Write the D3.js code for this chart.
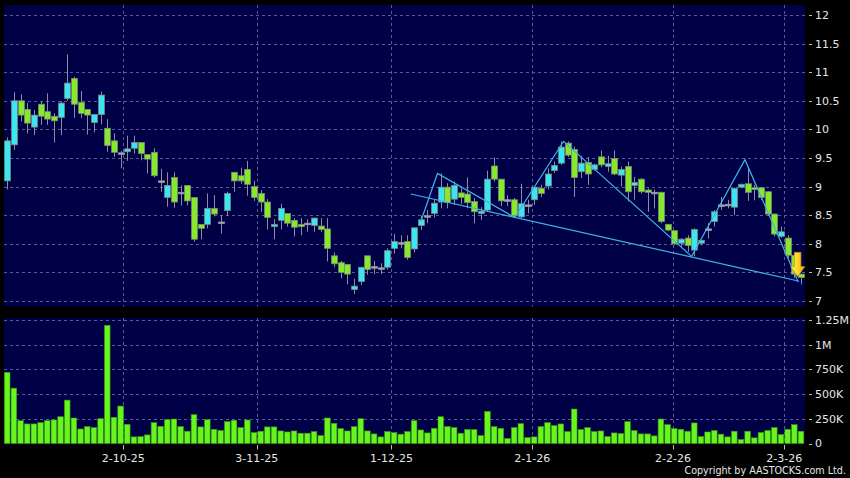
<!DOCTYPE html>
<html><head><meta charset="utf-8">
<script src="https://cdn.jsdelivr.net/npm/d3@7"></script>
<style>html,body{margin:0;padding:0;background:#000;}svg{display:block;}</style>
</head><body>
<script>
// ---- data ----
const opens  = [9.10,9.73,10.50,10.35,10.04,10.44,10.31,10.23,10.21,10.54,10.89,10.47,10.35,10.12,10.26,10.02,9.80,9.59,9.61,9.67,
 9.77,9.56,9.60,9.10,8.81,9.16,8.90,9.02,8.81,8.34,8.34,8.62,8.38,8.58,9.25,9.19,9.30,9.00,8.88,8.73,
 8.30,8.41,8.53,8.41,8.34,8.36,8.32,8.31,8.26,7.79,7.67,7.64,7.20,7.34,7.79,7.60,7.58,7.59,7.92,8.02,
 8.04,7.91,8.32,8.49,8.53,8.73,8.99,8.78,8.89,8.87,8.74,8.53,8.59,9.36,9.13,8.77,8.77,8.47,8.68,8.77,
 8.97,9.01,9.28,9.41,9.76,9.65,9.26,9.42,9.30,9.52,9.35,9.49,9.20,9.35,9.02,9.13,8.94,8.90,8.90,8.34,
 8.23,8.01,8.10,7.89,8.01,8.26,8.39,8.68,8.69,8.64,8.99,9.05,8.98,8.98,8.91,8.52,8.13,8.10,7.80,7.47];
const highs  = [9.86,10.65,10.61,10.46,10.34,10.49,10.63,10.28,10.49,11.31,10.92,10.67,10.35,10.26,10.66,10.18,9.93,9.62,9.89,9.89,
 9.77,9.56,9.67,9.31,9.25,9.25,9.02,9.02,8.81,8.34,8.88,8.85,8.50,8.91,9.25,9.33,9.45,9.10,8.94,8.78,
 8.43,8.70,8.53,8.45,8.45,8.43,8.45,8.45,8.45,7.85,7.70,7.64,7.39,7.59,7.79,7.70,7.66,7.92,8.17,8.15,
 8.15,8.28,8.49,8.59,8.77,9.23,9.06,9.09,8.97,9.16,8.80,8.64,9.28,9.51,9.13,8.85,8.80,9.05,8.77,8.99,
 9.03,9.32,9.44,9.79,9.79,9.70,9.54,9.52,9.40,9.63,9.54,9.63,9.35,9.44,9.17,9.15,8.97,8.95,8.91,8.34,
 8.23,8.10,8.15,8.27,8.07,8.36,8.59,8.82,8.77,8.98,9.05,9.35,9.03,8.99,8.92,8.53,8.30,8.15,7.80,7.48];
const lows   = [8.95,9.64,10.14,9.93,9.90,10.08,10.08,9.77,9.90,10.50,10.20,10.20,9.91,9.95,10.09,9.61,9.52,9.32,9.45,9.58,
 9.46,9.23,9.16,8.91,8.65,8.63,8.67,8.67,8.04,8.08,8.27,8.48,8.18,8.49,8.91,9.05,8.84,8.75,8.56,8.25,
 8.08,8.25,8.30,8.13,8.15,8.21,8.21,8.21,7.69,7.59,7.40,7.29,7.12,7.28,7.46,7.47,7.47,7.55,7.83,7.92,
 7.72,7.85,8.24,8.36,8.46,8.62,8.62,8.68,8.70,8.62,8.36,8.42,8.56,9.09,8.66,8.66,8.46,8.45,8.53,8.68,
 8.82,8.95,9.24,9.38,9.52,8.82,9.15,9.03,9.28,9.34,9.26,9.20,9.00,8.74,8.77,8.88,8.56,8.62,8.36,8.22,
 7.98,7.95,7.86,7.78,7.98,8.09,8.30,8.59,8.62,8.50,8.97,8.75,8.76,8.77,8.49,8.13,8.10,7.75,7.40,7.29];
const closes = [9.80,10.50,10.25,10.11,10.25,10.23,10.18,10.15,10.46,10.81,10.44,10.28,10.25,10.26,10.60,9.72,9.60,9.59,9.66,9.77,
 9.58,9.48,9.19,9.10,9.02,8.73,8.90,8.75,8.08,8.27,8.62,8.52,8.38,8.88,9.10,9.10,9.04,8.81,8.73,8.46,
 8.34,8.62,8.36,8.29,8.30,8.36,8.45,8.25,7.92,7.65,7.50,7.47,7.26,7.59,7.55,7.60,7.58,7.88,8.04,8.02,
 7.76,8.28,8.42,8.49,8.71,8.99,8.72,9.02,8.81,8.72,8.56,8.57,9.13,9.13,8.75,8.77,8.49,8.70,8.68,8.99,
 8.88,9.22,9.37,9.69,9.55,9.16,9.41,9.22,9.38,9.38,9.40,9.22,9.30,8.91,9.07,8.91,8.90,8.90,8.39,8.24,
 8.00,8.08,7.97,8.25,8.06,8.26,8.56,8.68,8.69,8.97,9.04,8.90,8.95,8.81,8.52,8.17,8.21,7.80,7.47,7.41];
const volumesK = [720,560,231,198,198,211,231,238,271,439,258,147,171,161,251,1196,265,379,194,67,
 70,87,211,174,241,248,171,124,292,168,241,144,131,221,235,161,238,111,124,168,
 168,127,117,127,104,104,121,80,258,204,151,127,171,251,127,97,67,121,111,94,
 121,231,137,107,154,271,171,161,104,141,141,80,325,171,154,50,161,201,60,67,
 171,211,181,198,121,349,141,161,121,127,70,107,101,221,131,97,97,77,248,191,
 151,144,124,208,70,117,131,94,67,124,40,124,57,111,131,161,90,144,191,124];
const priceTicks = [7,7.5,8,8.5,9,9.5,10,10.5,11,11.5,12];
const volumeTicks = [0,250000,500000,750000,1000000,1250000];
const volumeTickLabels = ["0","250K","500K","750K","1M","1.25M"];
const dateLabels = ["2-10-25","3-11-25","1-12-25","2-1-26","2-2-26","2-3-26"];
const dateTickIndex = [17.4,37.4,57.6,78.7,99.8,116.5];
// drawn pattern lines: [bar index, price]
const zigzagIdx   = [62.0,64.5,76.1,83.4,102.6,110.6,118.6];
const zigzagPrice = [8.39,9.23,8.46,9.79,7.78,9.47,7.33];
const supportIdx   = [60.5,118.6];
const supportPrice = [8.87,7.35];
const arrowIdx = 118.5, arrowTop = 7.85, arrowNeck = 7.6, arrowTip = 7.43;

// ---- chart ----
const W=850,H=478;
const L=4,R=805, pTop=5, pBot=306.5, vTop=318, vBot=443.5;
const svg = d3.select("body").append("svg").attr("width",W).attr("height",H).style("background","#000");
const x  = d3.scaleLinear().domain([0,opens.length-1]).range([7.2,801]);
const yP = d3.scaleLinear().domain([7,12]).range([301,15]);
const yV = d3.scaleLinear().domain([0,1250000]).range([vBot,320]);

const defs = svg.append("defs");
const g = defs.append("linearGradient").attr("id","arr").attr("x1",0).attr("x2",1).attr("y1",0).attr("y2",0);
g.append("stop").attr("offset","0%").attr("stop-color","#fff27a");
g.append("stop").attr("offset","55%").attr("stop-color","#ffd21e");
g.append("stop").attr("offset","100%").attr("stop-color","#f0a800");

svg.append("rect").attr("x",L).attr("y",pTop).attr("width",R-L).attr("height",pBot-pTop).attr("fill","#000046");
svg.append("rect").attr("x",L).attr("y",vTop).attr("width",R-L).attr("height",vBot-vTop).attr("fill","#000046");

const gridCol="#5b5b92";
svg.append("g").selectAll("line").data(priceTicks).join("line")
  .attr("x1",L).attr("x2",R).attr("y1",d=>Math.round(yP(d))+0.5).attr("y2",d=>Math.round(yP(d))+0.5)
  .attr("stroke",gridCol).attr("stroke-dasharray","3,3").attr("stroke-width",1);
svg.append("g").selectAll("line").data(volumeTicks.slice(1)).join("line")
  .attr("x1",L).attr("x2",R).attr("y1",d=>Math.round(yV(d))+0.5).attr("y2",d=>Math.round(yV(d))+0.5)
  .attr("stroke",gridCol).attr("stroke-dasharray","3,3").attr("stroke-width",1);
[[pTop,pBot],[vTop,vBot]].forEach(([a,b])=>{
  svg.append("g").selectAll("line").data(dateTickIndex).join("line")
    .attr("x1",d=>Math.round(x(d))+0.5).attr("x2",d=>Math.round(x(d))+0.5).attr("y1",a).attr("y2",b)
    .attr("stroke",gridCol).attr("stroke-dasharray","3,3").attr("stroke-width",1);
});

// volume bars
svg.append("g").selectAll("rect").data(volumesK).join("rect")
  .attr("x",(d,i)=>x(i)-2.8).attr("width",5.6)
  .attr("y",d=>yV(d*1000)).attr("height",d=>vBot-yV(d*1000))
  .attr("fill","#66f51c").attr("stroke","#3d9a12").attr("stroke-width",0.6);

// candles
const idx = d3.range(opens.length);
const cg = svg.append("g");
cg.selectAll("line").data(idx).join("line")
  .attr("x1",i=>Math.round(x(i))+0.5).attr("x2",i=>Math.round(x(i))+0.5)
  .attr("y1",i=>yP(highs[i])).attr("y2",i=>yP(lows[i]))
  .attr("stroke","#8c8c9c").attr("stroke-width",1);
cg.selectAll("rect").data(idx).join("rect")
  .attr("x",i=>Math.round(x(i))-2.4).attr("width",5.8)
  .attr("y",i=>Math.min(yP(opens[i]),yP(closes[i])))
  .attr("height",i=>Math.max(1.5,Math.abs(yP(opens[i])-yP(closes[i]))))
  .attr("fill",i=>closes[i]>opens[i]?"#3ae6f2":(closes[i]<opens[i]?"#86ea2a":"#a0a0b0"))
  .attr("stroke",i=>closes[i]===opens[i]?"#a0a0b0":"#7c8a7c").attr("stroke-width",0.8);

// pattern lines
const line = d3.line().x(d=>x(d[0])).y(d=>yP(d[1]));
svg.append("path").attr("d",line(zigzagIdx.map((d,i)=>[d,zigzagPrice[i]])))
  .attr("fill","none").attr("stroke","#3fb2e6").attr("stroke-width",1.2);
svg.append("path").attr("d",line(supportIdx.map((d,i)=>[d,supportPrice[i]])))
  .attr("fill","none").attr("stroke","#3fb2e6").attr("stroke-width",1.2);

// arrow
const ax=x(arrowIdx), at=yP(arrowTop), an=yP(arrowNeck), ap=yP(arrowTip);
svg.append("path").attr("d",`M${ax-3.2},${at}L${ax+3.2},${at}L${ax+3.2},${an}L${ax+7},${an}L${ax},${ap}L${ax-7},${an}L${ax-3.2},${an}Z`)
  .attr("fill","url(#arr)").attr("stroke","#d79a10").attr("stroke-width",0.8).attr("stroke-linejoin","round");

// right axes
const txtCol="#e6e6e6", font="'DejaVu Sans', Verdana, sans-serif";
const ra = svg.append("g");
ra.selectAll("line.p").data(priceTicks).join("line").attr("class","p")
  .attr("x1",809).attr("x2",812).attr("y1",d=>Math.round(yP(d))+0.5).attr("y2",d=>Math.round(yP(d))+0.5)
  .attr("stroke","#bbb");
ra.selectAll("text.p").data(priceTicks).join("text").attr("class","p")
  .attr("x",815).attr("y",d=>yP(d)).attr("dy","0.36em")
  .attr("fill",txtCol).attr("font-family",font).attr("font-size",11).text(d=>d3.format("~g")(d));
ra.selectAll("line.v").data(volumeTicks).join("line").attr("class","v")
  .attr("x1",809).attr("x2",812).attr("y1",d=>Math.round(yV(d))+0.5).attr("y2",d=>Math.round(yV(d))+0.5)
  .attr("stroke","#bbb");
ra.selectAll("text.v").data(volumeTicks).join("text").attr("class","v")
  .attr("x",815).attr("y",d=>yV(d)).attr("dy","0.36em")
  .attr("fill",txtCol).attr("font-family",font).attr("font-size",11).text((d,i)=>volumeTickLabels[i]);

// date axis
const da = svg.append("g");
da.selectAll("line").data(dateTickIndex).join("line")
  .attr("x1",d=>Math.round(x(d))+0.5).attr("x2",d=>Math.round(x(d))+0.5).attr("y1",445).attr("y2",449.5)
  .attr("stroke","#bbb");
da.selectAll("text").data(dateTickIndex).join("text")
  .attr("x",d=>x(d)).attr("y",462).attr("text-anchor","middle")
  .attr("fill",txtCol).attr("font-family",font).attr("font-size",11).text((d,i)=>dateLabels[i]);

svg.append("text").attr("x",846).attr("y",474).attr("text-anchor","end")
  .attr("fill",txtCol).attr("font-family",font).attr("font-size",9.6).text("Copyright by AASTOCKS.com Ltd.");
</script>
</body></html>
